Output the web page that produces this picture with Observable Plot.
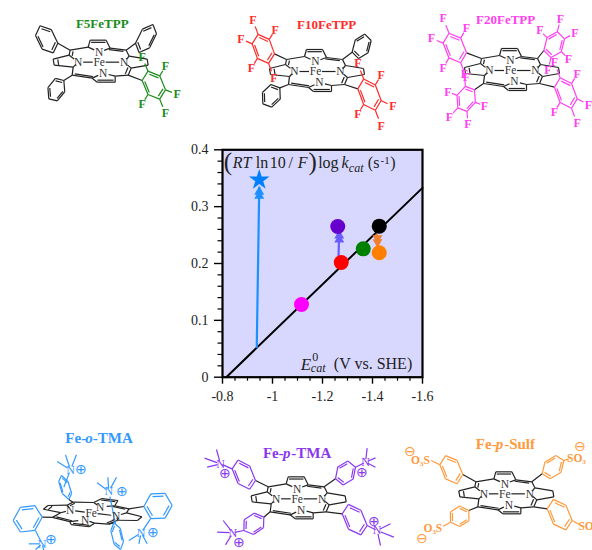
<!DOCTYPE html>
<html><head><meta charset="utf-8">
<style>html,body{margin:0;padding:0;background:#fff;overflow:hidden}</style>
<script src="https://cdn.jsdelivr.net/npm/d3@7"></script>
<script src="https://cdn.jsdelivr.net/npm/@observablehq/plot@0.6"></script>
</head><body><div id="chart"></div>
<script>
// ---- chart values ----
const potentials = [-1.116, -1.275, -1.363, -1.427, -1.427, -1.261];
const rates      = [0.128, 0.2018, 0.2258, 0.2657, 0.2188, 0.2651];
const dotColors  = ["#ff00ff", "#ff0000", "#008000", "#000000", "#ff8000", "#6600cc"];
const starPoint  = [{x: -0.947, y: 0.347}];
const fitX = [-0.815, -1.6];
const fitY = [0, 0.333];
const arrowsX1 = [-0.937, -1.264, -1.417];
const arrowsY1 = [0.0516, 0.211, 0.2525];
const arrowsX2 = [-0.947, -1.267, -1.42];
const arrowsY2 = [0.335, 0.258, 0.229];
const arrowColors = ["#1e90ff", "#6a5cff", "#f08030"];
const xMajor = [-0.8, -1, -1.2, -1.4, -1.6];
const xMinor = [-0.85, -0.9, -0.95, -1.05, -1.1, -1.15, -1.25, -1.3, -1.35, -1.45, -1.5, -1.55];
const yMajor = [0, 0.1, 0.2, 0.3, 0.4];
const yMinor = [0.02, 0.04, 0.06, 0.08, 0.12, 0.14, 0.16, 0.18, 0.22, 0.24, 0.26, 0.28, 0.32, 0.34, 0.36, 0.38];

// ---- molecule sketches (atoms in sketch units around Fe) ----
const coreAtoms = {
  mTL:[-29,-12], mTR:[27,-12], mBL:[-27,13], mBR:[29,13],
  a1:[-11,-15], b1:[-9,-22], b2:[7,-22], a2:[11,-14],
  a3:[-30,-7], b3:[-46,-3], b4:[-45,3], a4:[-26,5],
  a5:[30,-6], b5:[48,-3], b6:[49,3], a6:[32,6],
  a7:[-7,16], b7:[-2,20], b8:[16,20], a8:[16,14],
  Nt:[0,-10], Nl:[-21,0], Nr:[25,0], Nb:[4,11]
};
const coreBonds = [["mTL","a1"],["a1","b1"],["b1","b2",2],["b2","a2"],["a2","mTR",2],["mTR","a5"],["a5","b5"],["b5","b6"],["b6","a6"],["a6","mBR",2],["mBR","a8"],["a8","b8"],["b8","b7",2],["b7","a7"],["a7","mBL",2],["mBL","a4"],["a4","b4"],["b4","b3",2],["b3","a3"],["a3","mTL",2]];
const nitrogenBonds = [["a1","Nt"],["a2","Nt"],["a3","Nl"],["a4","Nl"],["a5","Nr"],["a6","Nr"],["a7","Nb"],["a8","Nb"]];
const nitrogenNames = ["Nt","Nl","Nr","Nb"];

const C = {green:"#1a8c1a", red:"#ff2a2a", magenta:"#ff40f0", blue:"#3399ff", purple:"#8a38ee", orange:"#ff9a3c"};

// ring: meso atom, ipso A, para B, half-width W, colour, fluorines?  (sketch coords ×3 from panel origin)
const molecules = [
 {name:[["F5FeTPP","normal",52.5]], size:13, tx:305, ty:70, color:C.green, origin:[0,0], fe:[296,185], m:[1,0,0,1], rings:[
   ["mTL",172,128,105,105,-3,-35,"#222",0],
   ["mTR",405,128,468,100,5,-35,"#222",0],
   ["mBL",190,240,145,295,14,20,"#222",0],
   ["mBR",425,240,495,268,0,-35,C.green,1]]},
 {name:[["F10FeTPP","normal",59]], size:13, tx:378, ty:72, color:C.red, origin:[200,0], fe:[345,213], m:[1,0,0,1], rings:[
   ["mTL",222,160,155,130,1,-36,C.red,1],
   ["mTR",455,155,512,120,-5,-28,"#222",0],
   ["mBL",238,262,187,310,14,22,"#222",0],
   ["mBR",472,265,542,300,0,-38,C.red,1]]},
 {name:[["F20FeTPP","normal",59]], size:13, tx:315, ty:58, color:C.magenta, origin:[400,0], fe:[330,210], m:[1,0,0,1], rings:[
   ["mTL",198,157,128,128,0,-37,C.magenta,1],
   ["mTR",430,150,492,115,-6,-30,C.magenta,1],
   ["mBL",222,268,172,322,15,24,C.magenta,1],
   ["mBR",462,260,530,295,0,-37,C.magenta,1]]},
 {name:[["Fe-","normal",20],["o","italic",7.5],["-TMA","normal",41.5]], size:15, tx:298, ty:38, color:C.blue, origin:[0,425], fe:[272,262], m:[1,-0.9,0.12,0.6], rings:[
   ["mTL",205,222,183,150,-14,0,C.blue,0],
   ["mTR",430,243,515,240,0,-37,C.blue,0],
   ["mBL",125,275,38,285,0,-37,C.blue,0],
   ["mBR",340,292,360,372,14,-4,C.blue,0]]},
 {name:[["Fe-","normal",20],["p","italic",8.3],["-TMA","normal",41.5]], size:15, tx:292, ty:83, color:C.purple, origin:[200,425], fe:[290,220], m:[1,0,0,1], rings:[
   ["mTL",165,165,95,130,0,-35,C.purple,0],
   ["mTR",405,160,465,125,-8,-27,C.purple,0],
   ["mBL",190,275,130,315,14,22,C.purple,0],
   ["mBR",425,265,500,300,0,-37,C.purple,0]]},
 {name:[["Fe-","normal",20],["p","italic",8.3],["-Sulf","normal",31]], size:15, tx:315, ty:55, color:C.orange, origin:[400,425], fe:[313,205], m:[1,0,0,1], rings:[
   ["mTL",187,147,118,118,0,-35,C.orange,0],
   ["mTR",425,145,490,105,-8,-25,C.orange,0],
   ["mBL",205,255,150,290,14,22,C.orange,0],
   ["mBR",440,250,515,285,0,-37,C.orange,0]]}
];
// ammonium groups: panel index, bond start, N position, plus-sign position, methyl ends
const ammonium = [
 [3,[105,315],[125,355],[152,342],[[85,355],[105,372],[130,375]]],
 [3,[450,280],[422,322],[458,320],[[385,345],[440,355],[415,355]]],
 [3,[190,185],[210,133],[240,133],[[170,108],[195,88],[228,88]]],
 [3,[345,295],[325,198],[365,197],[[290,172],[322,155],[348,155]]],
 [4,[95,130],[60,115],[72,145],[[12,98],[48,72],[20,125]]],
 [4,[465,125],[495,110],[485,140],[[500,68],[525,97],[525,125]]],
 [4,[130,315],[97,322],[115,352],[[50,320],[68,285],[75,358]]],
 [4,[500,300],[530,315],[520,288],[[570,295],[580,335],[540,360]]]
];
// sulfonate groups: bond start, bond end, label, label centre, minus-sign position
const sulfonate = [
 [[118,118],[92,105],"O₃S",[60,103],[27,77]],
 [[490,105],[505,100],"SO₃",[528,97],[537,62]],
 [[150,290],[128,302],"O₃S",[97,308],[65,340]],
 [[515,285],[538,298],"SO₃",[562,302],[0,0]]
];

// ---- convert sketch placement to the chart's data units ----
const pxToX = X => -0.8 - (X - 222) / 250;
const pxToY = Y => (376.7 - Y) / 568.5;
const bonds = [], labels = [];
function link(a, b, color, w = 1) {
  bonds.push({x1: pxToX(a[0]), y1: pxToY(a[1]), x2: pxToX(b[0]), y2: pxToY(b[1]), color, w});
}
function label(t, p, color, size, weight = "normal", style = "normal", anchor = "middle") {
  labels.push({t, x: pxToX(p[0]), y: pxToY(p[1]), color, size, weight, style, anchor});
}
const towards = (a, b, k) => [a[0] + (b[0] - a[0]) * k, a[1] + (b[1] - a[1]) * k];

molecules.forEach((M, mi) => {
  const Z = (x, y) => [M.origin[0] + x / 3, M.origin[1] + y / 3];
  const c = Z(M.fe[0], M.fe[1]);
  const place = ([x, y]) => [c[0] + M.m[0] * x + M.m[1] * y, c[1] + M.m[2] * x + M.m[3] * y];
  const P = n => place(coreAtoms[n]);
  coreBonds.forEach(([a, b, d]) => {
    link(P(a), P(b), "#222");
    if (d) link(towards(c, P(a), 0.9), towards(c, P(b), 0.9), "#222");
  });
  nitrogenBonds.forEach(([a, b]) => link(P(a), towards(P(a), P(b), 0.55), "#222"));
  nitrogenNames.forEach(n => {
    const p = P(n);
    label("N", p, "#333", 11.5);
    const len = Math.hypot(p[0] - c[0], p[1] - c[1]);
    if (n === "Nl" || n === "Nr") link(towards(c, p, 6.5 / len), towards(c, p, 1 - 5 / len), "#222");
  });
  label("Fe", c, "#333", 11.5);
  M.rings.forEach(([meso, ax, ay, bx, by, wx, wy, col, fl]) => {
    const A = [ax, ay], B = [bx, by];
    const at = (k, s) => [ax + (bx - ax) * k + s * wx, ay + (by - ay) * k + s * wy];
    const verts = [A, at(.25, 1), at(.75, 1), B, at(.75, -1), at(.25, -1)];
    const ctr = [(ax + bx) / 2, (ay + by) / 2];
    link(P(meso), Z(ax, ay), "#222");
    verts.forEach((v, i) => {
      const u = verts[(i + 1) % 6];
      link(Z(...v), Z(...u), col);
      if (i % 2 === 1) {
        const v2 = towards(ctr, v, .78), u2 = towards(ctr, u, .78);
        link(Z(...v2), Z(...u2), col);
      }
    });
    if (fl) for (let i = 1; i < 6; i++) {
      const v = verts[i], e = towards(ctr, v, 1.55), t = towards(ctr, v, 2);
      link(Z(...v), Z(...e), col);
      label("F", Z(...t), col, 12, "bold");
    }
  });
  // title, run by run
  const total = M.name.reduce((s, r) => s + r[2], 0);
  let x = M.origin[0] + M.tx / 3 - total / 2;
  M.name.forEach(([t, st, w]) => {
    label(t, [x, M.origin[1] + M.ty / 3], M.color, M.size, "bold", st, "start");
    x += w;
  });
});
ammonium.forEach(([mi, from, n, plus, me]) => {
  const M = molecules[mi], col = M.color;
  const Z = ([x, y]) => [M.origin[0] + x / 3, M.origin[1] + y / 3];
  link(Z(from), Z(towards(n, from, .16)), col);
  me.forEach(e => link(Z(towards(n, e, .22)), Z(e), col));
  label("N", Z(n), col, 12);
  label("⊕", Z(plus), col, 14);
});
sulfonate.forEach(([a, b, t, l, m], i) => {
  const M = molecules[5], col = M.color;
  const Z = ([x, y]) => [M.origin[0] + x / 3, M.origin[1] + y / 3];
  link(Z(a), Z(b), col);
  label(t, Z(l), col, 11.5, "bold");
  if (m[0]) label("⊖", Z(m), col, 14);
});

// ---- axis annotation pieces ----
const zx = z => 170 + z / 3, zy = z => 135 + z / 3;
const mid = (b, s) => zy(b) - 0.32 * s;
function eq(t, z, b, s, st = "normal") {
  label(t, [zx(z), mid(b, s)], "#222", s, "normal", st, "start");
}
eq("(", 160, 103, 25); eq("RT", 187, 97, 16, "italic"); eq("ln", 256, 97, 16); eq("10", 298, 97, 16);
eq("/", 354, 97, 16); eq("F", 382, 97, 16, "italic"); eq(")", 414, 103, 25); eq("log", 443, 97, 16);
eq("k", 513, 97, 16, "italic"); eq("cat", 535, 108, 12, "italic"); eq("(s", 592, 97, 16);
eq("-1", 630, 85, 11); eq(")", 659, 97, 16);
eq("E", 391, 703, 17, "italic"); eq("0", 425, 677, 12); eq("cat", 421, 708, 12, "italic");
eq("(V vs. SHE)", 490, 699, 16);

const dots = potentials.map((x, i) => ({x, y: rates[i], c: dotColors[i]}));
const arrows = arrowsX1.map((x1, i) => ({x1, y1: arrowsY1[i], x2: arrowsX2[i], y2: arrowsY2[i], c: arrowColors[i]}));
const fit = fitX.map((x, i) => ({x, y: fitY[i]}));
const up = arrows.slice(0, 2), down = arrows.slice(2);
const head = (rows, rotate, dy) => Plot.dot(rows, {x: "x2", y: "y2", symbol: "triangle", r: 3.7, fill: "c", stroke: "none", rotate, dy});

const groups = d3.groups(labels, d => [d.weight, d.style, d.anchor].join("|"));
const plot = Plot.plot({
  width: 592, height: 550,
  marginLeft: 222, marginRight: 170, marginTop: 149.3, marginBottom: 173.3,
  style: {fontFamily: "'Liberation Serif', serif", background: "#fff", overflow: "visible"},
  x: {domain: [-0.8, -1.6]},
  y: {domain: [0, 0.4]},
  marks: [
    Plot.frame({fill: "#d8d8ff", stroke: null}),
    Plot.line(fit, {x: "x", y: "y", stroke: "#000", strokeWidth: 2}),
    Plot.link(arrows, {x1: "x1", y1: "y1", x2: "x2", y2: "y2", stroke: "c", strokeWidth: 2.2}),
    head(up, 0, 5), head(up, 0, 9), head(down, 180, -5), head(down, 180, -9),
    Plot.dot(dots, {x: "x", y: "y", r: 7.5, fill: "c"}),
    Plot.dot(starPoint, {x: "x", y: "y", symbol: "star", r: 6.5, fill: "#0080ff"}),
    Plot.frame({stroke: "#000", strokeWidth: 2.2}),
    Plot.axisX({ticks: xMajor, tickSize: 7, tickPadding: 7, tickFormat: d => String(d), fontSize: 14, label: null, stroke: "#000", strokeWidth: 1.4, color: "#222"}),
    Plot.axisX({ticks: xMinor, tickSize: 4, tickFormat: () => "", label: null, stroke: "#000", strokeWidth: 1.2}),
    Plot.axisY({ticks: yMajor, tickSize: 8, tickPadding: 6, tickFormat: d => String(d), fontSize: 14, label: null, stroke: "#000", strokeWidth: 1.4, color: "#222"}),
    Plot.axisY({ticks: yMinor, tickSize: 4.5, tickFormat: () => "", label: null, stroke: "#000", strokeWidth: 1.2}),
    Plot.link(bonds, {x1: "x1", y1: "y1", x2: "x2", y2: "y2", stroke: "color", strokeWidth: 1.2}),
    ...groups.map(([, rows]) => Plot.text(rows, {
      x: "x", y: "y", text: "t", fill: "color", fontSize: "size",
      fontWeight: rows[0].weight, fontStyle: rows[0].style, textAnchor: rows[0].anchor, lineAnchor: "middle"
    }))
  ]
});
document.getElementById("chart").appendChild(plot);
</script></body></html>
